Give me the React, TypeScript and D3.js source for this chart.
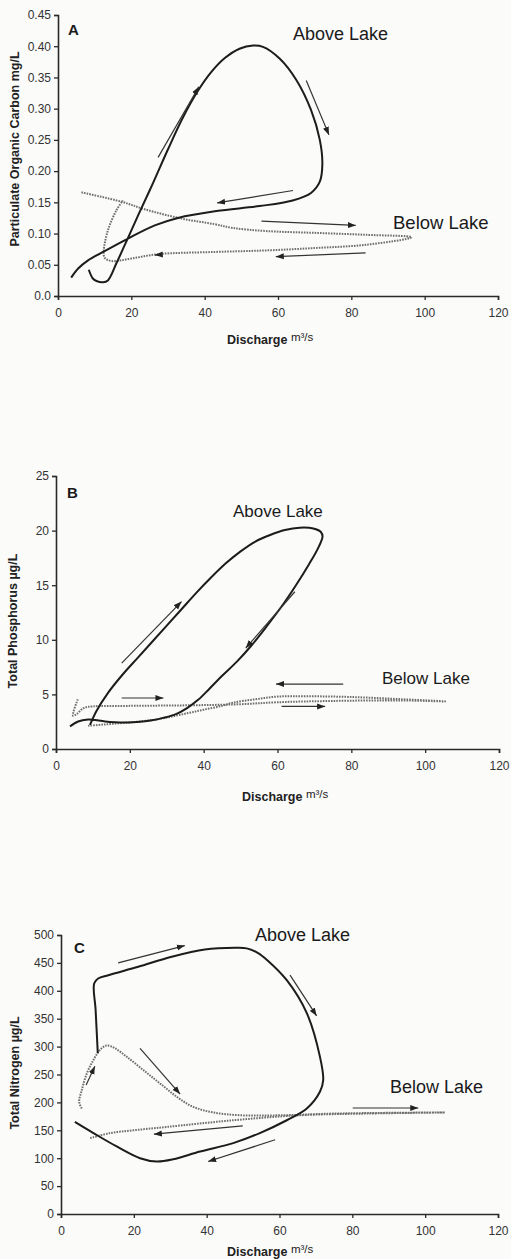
import { useEffect, useRef } from "react";
import * as d3 from "d3";

// shared discharge axis (m3/s)
const xTicks = [0, 20, 40, 60, 80, 100, 120];

// panel A - particulate organic carbon (mg/L)
const pocTicks = [0, 0.05, 0.1, 0.15, 0.2, 0.25, 0.3, 0.35, 0.4, 0.45];
const pocAbove = [
  [8.4, 0.042], [9.5, 0.028], [10.5, 0.024], [12.3, 0.022], [13.6, 0.025], [15.9, 0.052],
  [19, 0.092], [22, 0.131], [26, 0.182], [30, 0.235], [34, 0.285], [38, 0.327], [42, 0.36],
  [45.5, 0.381], [49.5, 0.396], [53.2, 0.401], [55.9, 0.399],
  [60.5, 0.38], [65, 0.346], [69, 0.298], [71.4, 0.25], [72.1, 0.212], [71.4, 0.183],
  [69, 0.165], [64, 0.153], [55, 0.144], [43.2, 0.136], [32.7, 0.125], [26.4, 0.113],
  [19.1, 0.092], [11.8, 0.069], [8.2, 0.057], [5.5, 0.044], [3.6, 0.0295],
];
const pocBelow = [
  [6.4, 0.166], [17.3, 0.151], [23.6, 0.139], [33.7, 0.124], [42.7, 0.115], [47.7, 0.109],
  [56.8, 0.104], [70.5, 0.101], [84, 0.098], [96.4, 0.094], [84, 0.082], [70.5, 0.077],
  [56.8, 0.073], [42.7, 0.0705], [27.3, 0.067], [20, 0.06], [14.6, 0.056], [12.7, 0.0615],
  [12.5, 0.073], [13.6, 0.105], [15.9, 0.137], [17.7, 0.153],
];
const pocArrows = [
  [27.3, 0.222, 38.4, 0.335],
  [67.7, 0.345, 73.9, 0.258],
  [64.1, 0.169, 43.4, 0.149],
  [55.5, 0.12, 81.2, 0.113],
  [83.9, 0.069, 59.4, 0.063],
  [28.2, 0.0664, 26.4, 0.0656],
];

// panel B - total phosphorus (ug/L)
const tpTicks = [0, 5, 10, 15, 20, 25];
const tpAbove = [
  [9.2, 2.2], [11, 3.5], [14, 5.1], [18, 6.8], [22, 8.3], [26, 9.8], [30, 11.3], [34, 12.8],
  [38, 14.3], [42, 15.7], [46, 17], [50, 18.1], [54, 19], [58, 19.6], [62, 20.05], [66, 20.27],
  [69.7, 20.2], [71.7, 19.9], [72.2, 19.45], [71, 18.4], [68.5, 16.9], [65, 15], [61, 13],
  [57, 11.2], [53, 9.5], [49, 8], [45, 6.7], [41.5, 5.5], [38.5, 4.5], [35.5, 3.75],
  [32.5, 3.2], [29, 2.85], [26, 2.63], [22, 2.47], [19.6, 2.43], [16, 2.45], [13.3, 2.52],
  [10, 2.68], [8.7, 2.7], [6, 2.52], [3.8, 2.07],
];
const tpBelow = [
  [5.9, 4.55], [4.6, 3.05], [5.6, 3.2], [7.5, 3.75], [10, 3.9], [20, 3.95], [30, 3.98],
  [40, 4.02], [50, 4.1], [60, 4.28], [75, 4.4], [93, 4.45], [105.4, 4.36], [93, 4.57],
  [80, 4.76], [68, 4.83], [60, 4.8], [53.9, 4.55], [48, 4.25], [44.9, 3.95], [40, 3.6],
  [35.8, 3.29], [31, 2.95], [26.8, 2.68], [22, 2.5], [17.8, 2.38], [13, 2.24], [8.7, 2.13],
];
const tpArrows = [
  [17.8, 7.87, 34, 13.5],
  [17.8, 4.67, 29.1, 4.67],
  [64.7, 14.4, 51.4, 9.24],
  [77.8, 5.95, 59.6, 5.95],
  [61.1, 3.9, 72.9, 3.9],
];

// panel C - total nitrogen (ug/L)
const tnTicks = [0, 50, 100, 150, 200, 250, 300, 350, 400, 450, 500];
const tnAbove = [
  [10.1, 288], [9.5, 366], [9.1, 413], [10.2, 422], [13, 428], [21.2, 443], [30.4, 461],
  [39.5, 474], [47.8, 477], [51, 476], [54, 468], [56.8, 454], [62, 419], [67.5, 360],
  [71.1, 282], [72, 240], [71.1, 219], [67.5, 189], [62, 168], [54.6, 145], [47.3, 127],
  [38.2, 112], [30.8, 98], [26.3, 94], [21.7, 100], [15.3, 121], [8.9, 145], [3.8, 165],
];
const tnBelow = [
  [5.7, 189], [5, 201], [5.7, 222], [7.1, 252], [8.9, 276], [10.7, 294], [12.5, 302],
  [14.8, 297], [18, 282], [22.6, 258], [27.2, 234], [31.8, 210], [36.3, 192], [41.8, 182],
  [49.1, 177], [61, 177], [74.8, 180], [105.4, 182], [83.9, 180], [65.6, 177], [47.3, 168],
  [29, 156], [19.9, 150], [13.5, 145], [8, 136],
];
const tnArrows = [
  [15.7, 450, 34, 481],
  [62.9, 428, 70.2, 355],
  [21.7, 297, 32.7, 215],
  [6.9, 231, 9.3, 265],
  [80.1, 190, 98.1, 190],
  [49.9, 158, 25.5, 143],
  [58.8, 133, 40.4, 94],
];

const FONT = "'Liberation Sans', Arial, Helvetica, sans-serif";

const panels = [
  {
    letter: "A", yLabel: "Particulate Organic Carbon  mg/L", ticks: pocTicks, max: 0.45,
    fmt: (d) => (d === 0 ? "0.0" : d.toFixed(2)),
    above: pocAbove, below: pocBelow, arrows: pocArrows,
    box: { left: 58, right: 498, top: 15, bottom: 296 },
    letterPos: [68, 35], yLabelPos: [19, 149], xLabelPos: [227, 344],
    abovePos: [293, 40, 18], belowPos: [393, 229, 18.5],
  },
  {
    letter: "B", yLabel: "Total Phosphorus µg/L", ticks: tpTicks, max: 25,
    fmt: (d) => String(d),
    above: tpAbove, below: tpBelow, arrows: tpArrows,
    box: { left: 56, right: 499, top: 476, bottom: 749 },
    letterPos: [67, 498], yLabelPos: [17, 621], xLabelPos: [242, 801],
    abovePos: [233, 517, 17], belowPos: [382, 684, 17],
  },
  {
    letter: "C", yLabel: "Total Nitrogen µg/L", ticks: tnTicks, max: 500,
    fmt: (d) => String(d),
    above: tnAbove, below: tnBelow, arrows: tnArrows,
    box: { left: 61, right: 498, top: 935, bottom: 1214 },
    letterPos: [74, 953], yLabelPos: [19, 1073], xLabelPos: [227, 1256],
    abovePos: [255, 941, 18], belowPos: [390, 1093, 18],
  },
];

const drawPanel = (svg, p) => {
  const { left, right, top, bottom } = p.box;
  const x = d3.scaleLinear().domain([0, 120]).range([left, right]);
  const y = d3.scaleLinear().domain([0, p.max]).range([bottom, top]);
  const g = svg.append("g").style("font-family", FONT);

  const line = d3
    .line()
    .x((d) => x(d[0]))
    .y((d) => y(d[1]))
    .curve(d3.curveCatmullRom.alpha(0.5));

  // below lake first, dotted grey
  g.append("path")
    .attr("d", line(p.below))
    .attr("fill", "none")
    .attr("stroke", "#6f6f6f")
    .attr("stroke-width", 2)
    .attr("stroke-dasharray", "1.6,1.1");

  g.append("path")
    .attr("d", line(p.above))
    .attr("fill", "none")
    .attr("stroke", "#1c1c1c")
    .attr("stroke-width", 2);

  g.selectAll("line.arrow")
    .data(p.arrows)
    .enter()
    .append("line")
    .attr("class", "arrow")
    .attr("x1", (d) => x(d[0]))
    .attr("y1", (d) => y(d[1]))
    .attr("x2", (d) => x(d[2]))
    .attr("y2", (d) => y(d[3]))
    .attr("stroke", "#333")
    .attr("stroke-width", 1.2)
    .attr("marker-end", "url(#head)");

  const yAxis = g
    .append("g")
    .attr("transform", "translate(" + left + ",0)")
    .call(d3.axisLeft(y).tickValues(p.ticks).tickSize(4).tickPadding(3).tickFormat(p.fmt));
  const xAxis = g
    .append("g")
    .attr("transform", "translate(0," + bottom + ")")
    .call(d3.axisBottom(x).tickValues(xTicks).tickSize(4).tickPadding(8));

  [yAxis, xAxis].forEach((a) => {
    a.select(".domain").attr("stroke", "#2a2a2a").attr("stroke-width", 1.6);
    a.selectAll(".tick line").attr("stroke", "#2a2a2a").attr("stroke-width", 1.3);
    a.selectAll("text").attr("fill", "#333").style("font-size", "12px").style("font-family", FONT);
  });

  g.append("text")
    .attr("x", p.letterPos[0])
    .attr("y", p.letterPos[1])
    .attr("fill", "#1a1a1a")
    .style("font", "bold 15px " + FONT)
    .text(p.letter);

  g.append("text")
    .attr("transform", "translate(" + p.yLabelPos[0] + "," + p.yLabelPos[1] + ") rotate(-90)")
    .attr("text-anchor", "middle")
    .attr("fill", "#222")
    .style("font", "bold 12.5px " + FONT)
    .text(p.yLabel);

  const xl = g
    .append("text")
    .attr("x", p.xLabelPos[0])
    .attr("y", p.xLabelPos[1])
    .attr("fill", "#222");
  xl.append("tspan").style("font", "bold 12.5px " + FONT).text("Discharge ");
  xl.append("tspan").attr("dy", -3).style("font", "11.5px " + FONT).text("m³/s");

  g.append("text")
    .attr("x", p.abovePos[0])
    .attr("y", p.abovePos[1])
    .attr("fill", "#1a1a1a")
    .style("font", p.abovePos[2] + "px " + FONT)
    .text("Above Lake");

  g.append("text")
    .attr("x", p.belowPos[0])
    .attr("y", p.belowPos[1])
    .attr("fill", "#1a1a1a")
    .style("font", p.belowPos[2] + "px " + FONT)
    .text("Below Lake");
};

const App = () => {
  const ref = useRef(null);

  useEffect(() => {
    const svg = d3.select(ref.current);
    svg.selectAll("*").remove();

    svg.append("rect").attr("width", 511).attr("height", 1259).attr("fill", "#fbfbfa");

    svg
      .append("defs")
      .append("marker")
      .attr("id", "head")
      .attr("markerUnits", "userSpaceOnUse")
      .attr("markerWidth", 9)
      .attr("markerHeight", 7)
      .attr("refX", 8)
      .attr("refY", 3.5)
      .attr("orient", "auto")
      .append("path")
      .attr("d", "M0,0.5 L8,3.5 L0,6.5 Z")
      .attr("fill", "#222");

    panels.forEach((p) => drawPanel(svg, p));
  }, []);

  return (
    <svg
      ref={ref}
      width={511}
      height={1259}
      style={{ position: "absolute", left: 0, top: 0, display: "block" }}
    />
  );
};

export default App;
